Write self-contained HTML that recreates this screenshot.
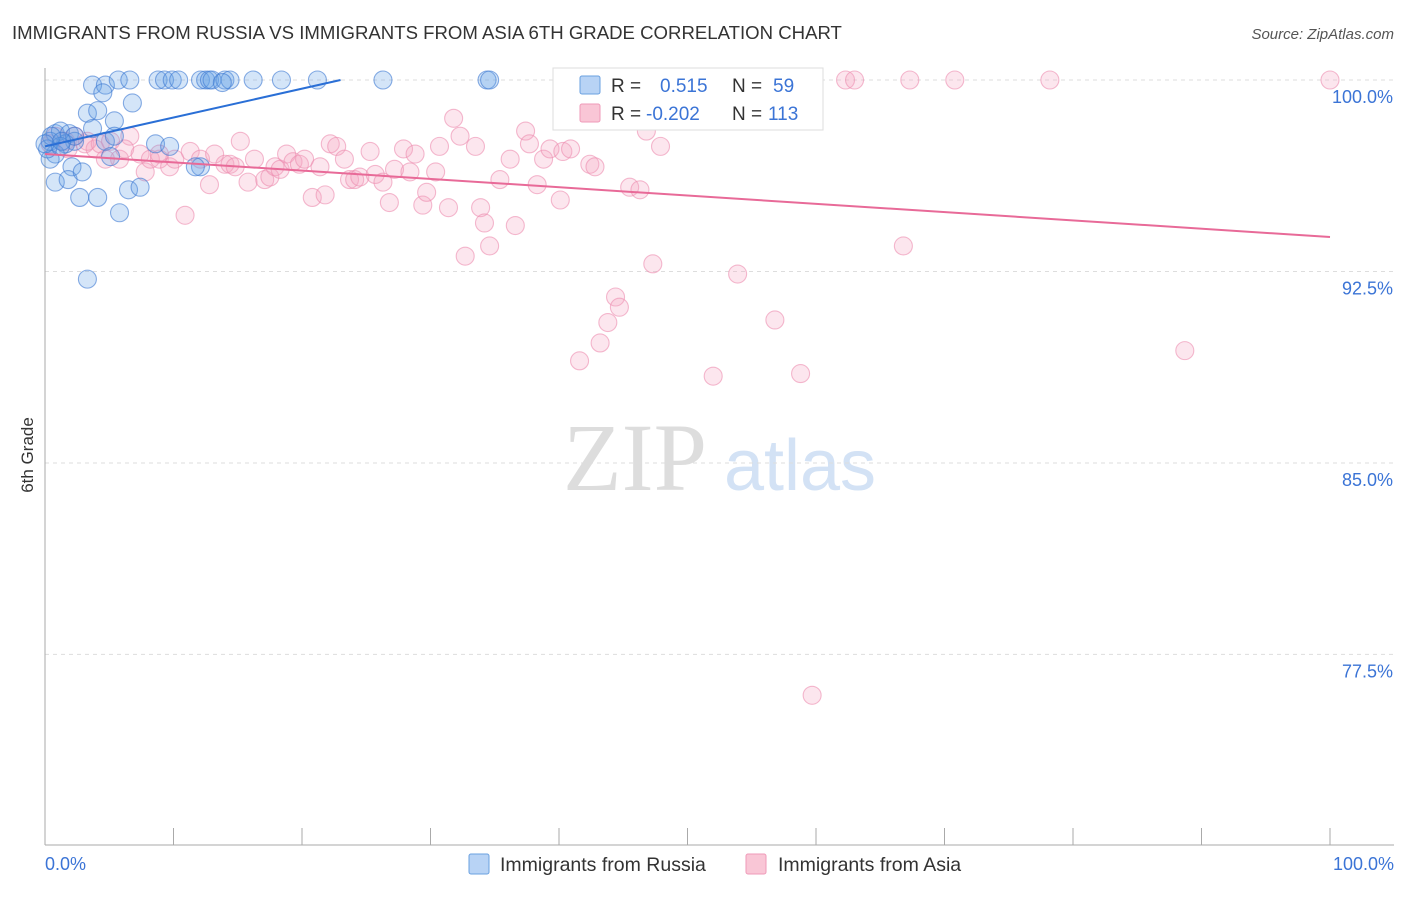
<!DOCTYPE html>
<html><head><meta charset="utf-8"><style>
body{margin:0;background:#fff;font-family:"Liberation Sans",sans-serif}
</style></head><body>
<svg width="1406" height="892" xmlns="http://www.w3.org/2000/svg">
<text x="12" y="39" font-size="18.6" fill="#333">IMMIGRANTS FROM RUSSIA VS IMMIGRANTS FROM ASIA 6TH GRADE CORRELATION CHART</text>
<text x="1394" y="39" font-size="15" fill="#555" text-anchor="end" font-style="italic">Source: ZipAtlas.com</text>
<text x="33" y="455" font-size="17" fill="#333" text-anchor="middle" transform="rotate(-90 33 455)">6th Grade</text>
<g><text x="635" y="490" font-size="96" fill="#ddd" text-anchor="middle" font-family="Liberation Serif,serif">ZIP</text><text x="800" y="490" font-size="72" fill="#d3e2f5" text-anchor="middle">atlas</text></g>
<g id="grid"></g><g id="axes"></g><g id="pts"></g><g id="trend"></g>
<g>
<rect x="553" y="68" width="270" height="62" fill="#fff" stroke="#ddd"/>
<rect x="580" y="76" width="20" height="18" fill="#b8d3f5" stroke="#6aa0e0" rx="2"/>
<rect x="580" y="104" width="20" height="18" fill="#f9c6d6" stroke="#ef9ab8" rx="2"/>
<text x="611" y="92" font-size="19" fill="#333">R =</text><text x="660" y="92" font-size="19" fill="#3b74d6">0.515</text>
<text x="732" y="92" font-size="19" fill="#333">N =</text><text x="773" y="92" font-size="19" fill="#3b74d6">59</text>
<text x="611" y="120" font-size="19" fill="#333">R =</text><text x="646" y="120" font-size="19" fill="#3b74d6">-0.202</text>
<text x="732" y="120" font-size="19" fill="#333">N =</text><text x="768" y="120" font-size="19" fill="#3b74d6">113</text>
</g>
<g>
<rect x="469" y="854" width="20" height="20" fill="#b8d3f5" stroke="#6aa0e0" rx="2"/>
<text x="500" y="871" font-size="19.5" fill="#333">Immigrants from Russia</text>
<rect x="746" y="854" width="20" height="20" fill="#f9c6d6" stroke="#ef9ab8" rx="2"/>
<text x="778" y="871" font-size="19.5" fill="#333">Immigrants from Asia</text>
</g>
</svg>
<script>
const yTicks=[100,92.5,85,77.5];
const yTickLabels=["100.0%","92.5%","85.0%","77.5%"];
const xTickLabels=["0.0%","100.0%"];
const russiaX=[3.7,4.7,5.7,6.6,8.8,9.3,9.9,10.4,12.1,12.5,12.8,13.0,14.0,14.4,16.2,18.4,21.2,26.3,34.4,34.6,13.8,4.5,6.8,3.3,4.1,5.4,3.7,0.8,1.2,1.9,2.3,1.6,0.4,4.7,5.4,8.6,9.7,0.8,0.4,5.1,12.1,11.7,2.1,0.8,1.8,2.9,6.5,7.4,2.7,4.1,5.8,3.3,0.2,1.2,0.5,2.3,0,1.3];
const russiaY=[99.8,99.8,100,100,100,100,100,100,100,100,100,100,100,100,100,100,100,100,100,100,99.9,99.5,99.1,98.7,98.8,98.4,98.1,97.9,98.0,97.9,97.6,97.5,97.6,97.6,97.8,97.5,97.4,97.1,96.9,97.0,96.6,96.6,96.6,96.0,96.1,96.4,95.7,95.8,95.4,95.4,94.8,92.2,97.3,97.4,97.8,97.8,97.5,97.6];
const asiaX=[0.4,0.8,1.6,2.3,3.1,3.9,4.3,5.1,5.8,6.6,6.2,7.4,7.8,8.2,8.9,9.7,10.1,10.9,11.3,12.1,12.8,13.2,14.0,14.4,15.2,14.8,15.8,16.3,17.1,17.5,17.9,18.3,18.8,19.3,19.8,20.2,20.8,21.4,21.8,22.2,22.7,23.3,23.7,24.1,24.5,25.3,25.7,26.3,26.8,27.2,27.9,28.4,28.8,29.4,29.7,30.4,30.7,31.4,31.8,32.3,32.7,33.5,33.9,34.2,34.6,35.4,36.2,36.6,37.4,37.7,38.3,38.8,39.3,40.1,40.3,40.9,41.6,42.4,42.8,43.2,43.8,44.4,44.7,45.1,45.5,46.3,46.8,47.3,47.9,50.2,52.0,52.9,53.3,53.9,56.8,58.8,59.7,62.3,63.0,66.8,67.3,70.8,78.2,88.7,100,1.8,3.3,4.7,8.9];
const asiaY=[97.5,97.8,97.6,97.8,97.5,97.3,97.5,97.6,96.9,97.8,97.3,97.1,96.4,96.9,96.9,96.6,96.9,94.7,97.2,96.9,95.9,97.1,96.7,96.7,97.6,96.6,96.0,96.9,96.1,96.2,96.6,96.5,97.1,96.8,96.7,96.9,95.4,96.6,95.5,97.5,97.4,96.9,96.1,96.1,96.2,97.2,96.3,96.0,95.2,96.5,97.3,96.4,97.1,95.1,95.6,96.4,97.4,95.0,98.5,97.8,93.1,97.4,95.0,94.4,93.5,96.1,96.9,94.3,98.0,97.5,95.9,96.9,97.3,95.3,97.2,97.3,89.0,96.7,96.6,89.7,90.5,91.5,91.1,99.1,95.8,95.7,98.0,92.8,97.4,98.5,88.4,100,99.9,92.4,90.6,88.5,75.9,100,100,93.5,100,100,100,89.4,100,97.3,97.6,96.9,97.1];
const russiaTrendX=[0,23.0];
const russiaTrendY=[97.4,100];
const asiaTrendX=[0,100];
const asiaTrendY=[97.1,93.85];
const NS="http://www.w3.org/2000/svg";
const xs=v=>45+v*12.85;
const ys=v=>80+(100-v)*25.53;
function mk(tag,attrs,parent){const e=document.createElementNS(NS,tag);for(const k in attrs)e.setAttribute(k,attrs[k]);document.getElementById(parent).appendChild(e);return e;}
yTicks.forEach((t,i)=>{
 const l=mk('line',{x1:45,x2:1394,y1:ys(t),y2:ys(t),stroke:'#ddd','stroke-dasharray':'4 4'},'grid');
 
 
 const tx=mk('text',{x:1393,y:ys(t)+23,'font-size':18,fill:'#3b74d6','text-anchor':'end'},'axes');tx.textContent=yTickLabels[i];
 
 
});
let ax=mk('line',{x1:45,x2:45,y1:68,y2:845,stroke:'#aaa'},'axes');


ax=mk('line',{x1:45,x2:1394,y1:845,y2:845,stroke:'#aaa'},'axes');


for(let i=0;i<=10;i++){const t=mk('line',{x1:xs(i*10),x2:xs(i*10),y1:828,y2:845,stroke:'#aaa'},'axes');
 
 }
[[0,'start',45],[100,'end',1394]].forEach((d,i)=>{const t=mk('text',{x:d[2],y:870,'font-size':18,fill:'#3b74d6','text-anchor':d[1]},'axes');t.textContent=xTickLabels[i];
 
 });
asiaX.forEach((x,i)=>{const c=mk('circle',{cx:xs(x),cy:ys(asiaY[i]),r:9,fill:'rgba(244,165,195,0.28)',stroke:'rgba(236,140,175,0.6)','stroke-width':1.1},'pts');
 
 });
russiaX.forEach((x,i)=>{const c=mk('circle',{cx:xs(x),cy:ys(russiaY[i]),r:9,fill:'rgba(100,160,230,0.28)',stroke:'rgba(60,120,210,0.6)','stroke-width':1.1},'pts');
 
 });
let tl=mk('line',{x1:xs(asiaTrendX[0]),y1:ys(asiaTrendY[0]),x2:xs(asiaTrendX[1]),y2:ys(asiaTrendY[1]),stroke:'#e86a98','stroke-width':2},'trend');


tl=mk('line',{x1:xs(russiaTrendX[0]),y1:ys(russiaTrendY[0]),x2:xs(russiaTrendX[1]),y2:ys(russiaTrendY[1]),stroke:'#2a6fd6','stroke-width':2},'trend');


</script>
</body></html>
